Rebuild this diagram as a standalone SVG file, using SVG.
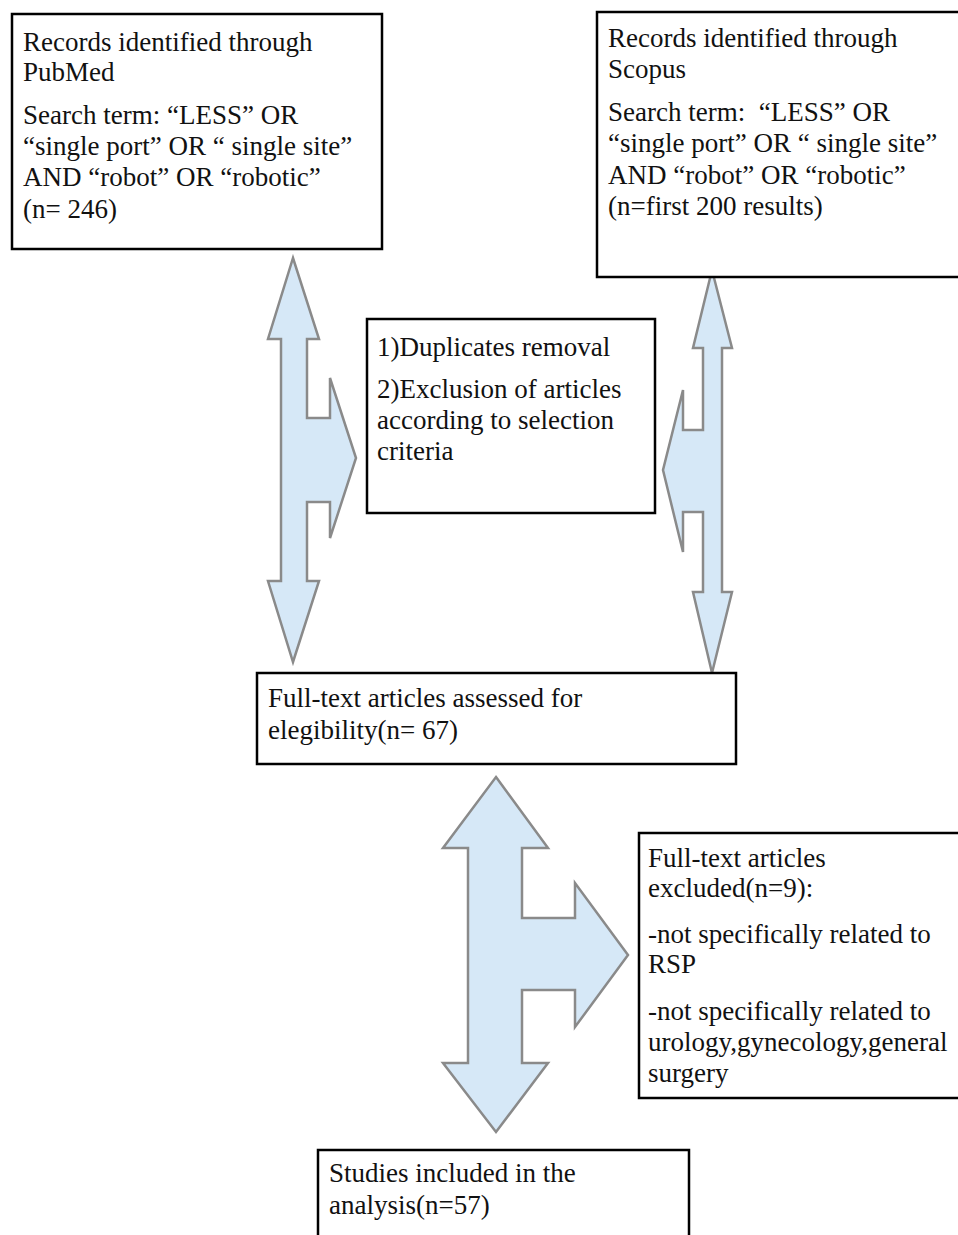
<svg xmlns="http://www.w3.org/2000/svg" width="958" height="1235" viewBox="0 0 958 1235">
<style>
.box{fill:#fff;stroke:#000;stroke-width:2.5}
.t{font-family:"Liberation Serif","Times New Roman",serif;font-size:27px;fill:#111;white-space:pre}
.arr{fill:#d6e8f7;stroke:#8a8a8a;stroke-width:2.5;stroke-linejoin:miter}
</style>
<rect width="958" height="1235" fill="#fff"/>
<g id="connectors">
<polygon class="arr" points="293,258 319,339 307,339 307,418 330,418 330,378 356,458 330,538 330,502 307,502 307,581 319,581 293,662 268,581 281,581 281,339 268,339"/>
<polygon class="arr" points="712,270 732,348 722,348 722,592 732,592 712,673 693,592 703,592 703,512 683,512 683,552 663,470 683,390 683,430 703,430 703,348 693,348"/>
<polygon class="arr" points="496,777 548,848 522,848 522,918 575,918 575,883 628,955 575,1027 575,990 522,990 522,1063 548,1063 496,1132 443,1063 468,1063 468,848 443,848"/>
</g>
<g id="pubmed">
<rect class="box" x="12" y="14" width="370" height="235"/>
<text class="t" x="23" y="51">Records identified through</text>
<text class="t" x="23" y="81">PubMed</text>
<text class="t" x="23" y="124">Search term: “LESS” OR</text>
<text class="t" x="23" y="155">“single port” OR “ single site”</text>
<text class="t" x="23" y="186">AND “robot” OR “robotic”</text>
<text class="t" x="23" y="218">(n= 246)</text>
</g>
<g id="scopus">
<rect class="box" x="597" y="12" width="370" height="265"/>
<text class="t" x="608" y="47">Records identified through</text>
<text class="t" x="608" y="78">Scopus</text>
<text class="t" x="608" y="121">Search term:  “LESS” OR</text>
<text class="t" x="608" y="152">“single port” OR “ single site”</text>
<text class="t" x="608" y="184">AND “robot” OR “robotic”</text>
<text class="t" x="608" y="215">(n=first 200 results)</text>
</g>
<g id="screening">
<rect class="box" x="367" y="319" width="288" height="194"/>
<text class="t" x="377" y="356">1)Duplicates removal</text>
<text class="t" x="377" y="398">2)Exclusion of articles</text>
<text class="t" x="377" y="429">according to selection</text>
<text class="t" x="377" y="460">criteria</text>
</g>
<g id="fulltext">
<rect class="box" x="257" y="673" width="479" height="91"/>
<text class="t" x="268" y="707">Full-text articles assessed for</text>
<text class="t" x="268" y="739">elegibility(n= 67)</text>
</g>
<g id="excluded">
<rect class="box" x="639" y="833" width="330" height="265"/>
<text class="t" x="648" y="867">Full-text articles</text>
<text class="t" x="648" y="897">excluded(n=9):</text>
<text class="t" x="648" y="943">-not specifically related to</text>
<text class="t" x="648" y="973">RSP</text>
<text class="t" x="648" y="1020">-not specifically related to</text>
<text class="t" x="648" y="1051">urology,gynecology,general</text>
<text class="t" x="648" y="1082">surgery</text>
</g>
<g id="included">
<rect class="box" x="318" y="1150" width="371" height="100"/>
<text class="t" x="329" y="1182">Studies included in the</text>
<text class="t" x="329" y="1214">analysis(n=57)</text>
</g>
</svg>
